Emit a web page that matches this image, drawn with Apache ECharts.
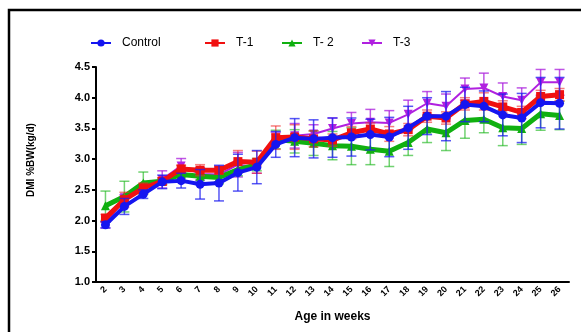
<!DOCTYPE html>
<html>
<head>
<meta charset="utf-8">
<script src="https://cdn.jsdelivr.net/npm/echarts@6/dist/echarts.min.js"></script>
<style>
html,body{margin:0;padding:0;background:#fff;}
#c{width:581px;height:332px;}
</style>
</head>
<body>
<div id="c"></div>
<script>
var weeks = ['2','3','4','5','6','7','8','9','10','11','12','13','14','15','16','17','18','19','20','21','22','23','24','25','26'];
var yTicks = [1.0, 1.5, 2.0, 2.5, 3.0, 3.5, 4.0, 4.5];

var control = [1.93,2.23,2.43,2.63,2.65,2.59,2.61,2.78,2.87,3.24,3.35,3.33,3.35,3.36,3.40,3.36,3.51,3.70,3.70,3.89,3.86,3.72,3.67,3.92,3.91];
var t1      = [2.04,2.34,2.53,2.64,2.84,2.82,2.82,2.96,2.95,3.35,3.36,3.33,3.31,3.43,3.49,3.41,3.48,3.70,3.67,3.90,3.94,3.85,3.76,4.02,4.05];
var t2      = [2.24,2.39,2.61,2.64,2.75,2.72,2.70,2.83,2.91,3.32,3.29,3.26,3.22,3.21,3.16,3.13,3.27,3.49,3.43,3.63,3.65,3.51,3.50,3.74,3.71];
var t3      = [1.93,2.37,2.50,2.67,2.89,2.76,2.75,2.91,2.87,3.34,3.38,3.41,3.50,3.58,3.60,3.59,3.73,3.91,3.86,4.14,4.16,4.02,3.96,4.25,4.25];

var controlErr = [0.05,0.13,0.07,0.11,0.12,0.24,0.29,0.30,0.27,0.21,0.31,0.31,0.32,0.31,0.25,0.32,0.35,0.30,0.40,0.28,0.25,0.34,0.40,0.41,0.42];
var t1Err      = [0.06,0.12,0.08,0.06,0.06,0.09,0.06,0.18,0.18,0.19,0.20,0.13,0.10,0.10,0.10,0.12,0.10,0.10,0.10,0.10,0.14,0.10,0.10,0.10,0.10];
var t2Err      = [0.24,0.25,0.18,0.05,0.05,0.10,0.10,0.10,0.10,0.15,0.19,0.20,0.23,0.30,0.25,0.25,0.21,0.22,0.29,0.29,0.22,0.29,0.26,0.27,0.23];
var t3Err      = [0.05,0.05,0.06,0.14,0.12,0.10,0.12,0.20,0.10,0.10,0.20,0.15,0.17,0.18,0.21,0.20,0.23,0.19,0.20,0.18,0.24,0.22,0.20,0.21,0.21];

var names = ['Control','T-1','T- 2','T-3'];
var colors = ['#1515f0','#f01010','#10b010','#b020e0'];
var barColors = ['rgba(30,30,240,0.75)','rgba(240,40,40,0.6)','rgba(20,180,20,0.6)','rgba(170,30,220,0.75)'];
var values = [control, t1, t2, t3];
var errs = [controlErr, t1Err, t2Err, t3Err];
var symbols = ['circle','rect','triangle','triangle'];
var symRot = [0,0,0,180];
var lineW = [4,5,5,2];
var zs = [8,6,4,2];

var chart = echarts.init(document.getElementById('c'));
var series = [];
values.forEach(function(vals, s){
  var d = vals.map(function(v,i){ return [i, v - errs[s][i], v + errs[s][i]]; });
  series.push({
    type:'custom',
    name: names[s] + '_err',
    z: zs[s]-1,
    silent:true,
    data:d,
    encode:{x:0,y:[1,2]},
    renderItem:function(params, api){
      var lo = api.coord([api.value(0), api.value(1)]);
      var hi = api.coord([api.value(0), api.value(2)]);
      var hw = 5;
      var st = {stroke: barColors[s], lineWidth: 1.5};
      return {type:'group', children:[
        {type:'line', shape:{x1:lo[0],y1:lo[1],x2:hi[0],y2:hi[1]}, style:st},
        {type:'line', shape:{x1:lo[0]-hw,y1:lo[1],x2:lo[0]+hw,y2:lo[1]}, style:st},
        {type:'line', shape:{x1:hi[0]-hw,y1:hi[1],x2:hi[0]+hw,y2:hi[1]}, style:st}
      ]};
    }
  });
});
values.forEach(function(vals, s){
  series.push({
    type:'line',
    name:names[s],
    data:vals,
    z: zs[s],
    symbol:symbols[s],
    symbolRotate:symRot[s],
    symbolSize: 9,
    showAllSymbol:true,
    itemStyle:{color:colors[s]},
    lineStyle:{color:colors[s], width:lineW[s]},
    animation:false
  });
});

var legendX = [85, 199, 276, 356];
var legends = names.map(function(n, i){
  return {
    data:[n], left:legendX[i], top:32, itemWidth:20, itemHeight:9, itemGap:10,
    textStyle:{fontFamily:'Liberation Sans, Arial, sans-serif', fontSize:12, color:'#000', padding:[0,0,0,6]},
    selectedMode:false
  };
});

chart.setOption({
  animation:false,
  backgroundColor:'#fff',
  legend: legends,
  grid:{left:96, right:12, top:67, bottom:50, containLabel:false},
  xAxis:{
    type:'category',
    data:weeks,
    boundaryGap:true,
    name:'Age in weeks',
    nameLocation:'middle',
    nameGap:29,
    nameTextStyle:{fontFamily:'Liberation Sans, Arial, sans-serif', fontSize:12, fontWeight:'bold', color:'#000'},
    axisLine:{lineStyle:{color:'#000', width:2}},
    axisTick:{alignWithLabel:true, length:4, lineStyle:{color:'#000', width:2}},
    axisLabel:{rotate:45, interval:0, margin:6, fontFamily:'Liberation Sans, Arial, sans-serif', fontSize:9, fontWeight:'bold', color:'#000'},
    splitLine:{show:false}
  },
  yAxis:{
    type:'value',
    min:yTicks[0], max:yTicks[yTicks.length-1], interval:0.5,
    axisLine:{show:true, lineStyle:{color:'#000', width:2}},
    axisTick:{show:true, length:4, lineStyle:{color:'#000', width:2}},
    axisLabel:{margin:6, fontFamily:'Liberation Sans, Arial, sans-serif', fontSize:11, fontWeight:'bold', color:'#000',
      formatter:function(v){ return v.toFixed(1); }},
    splitLine:{show:false}
  },
  graphic:[
    {type:'rect', shape:{x:9, y:10, width:620, height:400}, style:{fill:'none', stroke:'#000', lineWidth:2.5}, silent:true},
    {type:'text', x:31, y:160, rotation:Math.PI/2, style:{text:'DMI %BW(kg/d)', fontFamily:'Liberation Sans, Arial, sans-serif', fontSize:10, fontWeight:'bold', fill:'#000', align:'center', verticalAlign:'middle'}}
  ],
  series:series
});
</script>
</body>
</html>
